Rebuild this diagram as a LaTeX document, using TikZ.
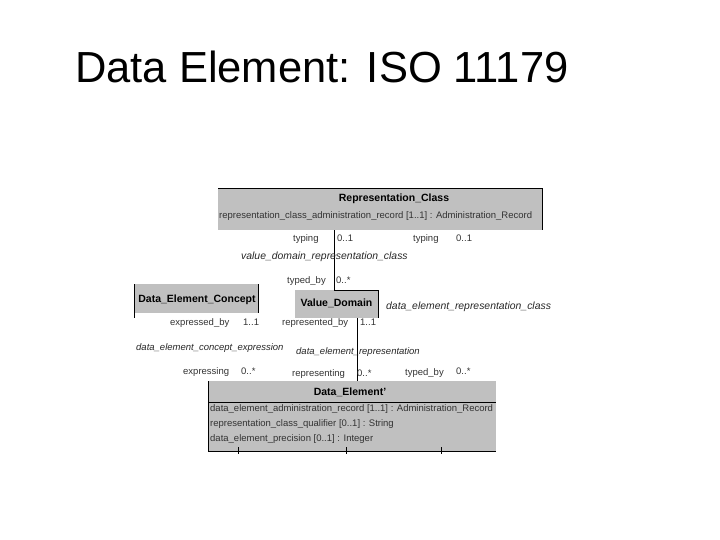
\documentclass[tikz,border=0pt]{standalone}
\usepackage{fontspec}
\setmainfont{Liberation Sans}
\begin{document}
\begin{tikzpicture}[x=1pt,y=-1pt,
  box/.style={fill=boxgray,draw=none,inner sep=0,anchor=north west},
  bord/.style={draw=black,line width=0.9pt},
  hdr/.style={inner sep=0,anchor=base,font=\fontsize{10.5}{12}\bfseries},
  lab/.style={inner sep=0,anchor=base west,text=black!80,font=\fontsize{9.5}{11}\selectfont},
  ilab/.style={inner sep=0,anchor=base west,text=black!85,font=\fontsize{10.4}{12}\itshape},
  islab/.style={inner sep=0,anchor=base west,text=black!85,font=\fontsize{9.5}{11}\itshape}]
\definecolor{boxgray}{RGB}{192,192,192}
\useasboundingbox (0,0) rectangle (720,540);
% title
\node[inner sep=0,anchor=base west,font=\fontsize{43.5}{48}\selectfont] (title) at (75,82.7) {Data Element: ISO 11179};
% Representation_Class
\node[box,minimum width=324pt,minimum height=42pt] (rc) at (218,188) {};
\draw[bord] (rc.north west) -- (rc.north east) -- (rc.south east);
\node[hdr] (rct) at (394,201.5) {Representation\_Class};
\node[lab] (rca) at (219,218.5) {representation\_class\_administration\_record [1..1] : Administration\_Record};
% Data_Element_Concept
\node[box,minimum width=124pt,minimum height=29pt] (dec) at (134,284) {};
\draw[bord] (dec.north west) -- ([yshift=-5pt]dec.south west);
\draw[bord] (dec.north east) -- (dec.south east);
\node[hdr] (dect) at (197,302) {Data\_Element\_Concept};
% Value_Domain
\node[box,minimum width=83pt,minimum height=28pt] (vd) at (295,290) {};
\draw[bord] ([xshift=-2.5pt]vd.north) -- (vd.north east) -- (vd.south east);
\node[hdr] (vdt) at (336.5,306) {Value\_Domain};
% Data_Element
\node[box,minimum width=288pt,minimum height=70pt] (de) at (208,381) {};
\draw[bord] (de.north west) -- (de.south west) -- (de.south east);
\draw[bord] ([yshift=-21pt]de.north west) -- ([yshift=-21pt]de.north east);
\node[hdr] (det) at (350,395) {Data\_Element'};
\node[lab] (dea1) at (210,411.5) {data\_element\_administration\_record [1..1] : Administration\_Record};
\node[lab] (dea2) at (210,426.5) {representation\_class\_qualifier [0..1] : String};
\node[lab] (dea3) at (210,441.5) {data\_element\_precision [0..1] : Integer};
\foreach \tx in {30,138,233} \draw[bord] ([xshift=\tx pt,yshift=4pt]de.south west) -- ([xshift=\tx pt,yshift=-3pt]de.south west);
% connectors
\draw[bord] ([xshift=-2.5pt]vd.north |- rc.south) -- ([xshift=-2.5pt]vd.north);
\draw[bord] ([xshift=20.5pt]vd.south) -- ([xshift=20.5pt]vd.south |- de.north);
% association labels
\node[lab] (l1) at (293,241.5) {typing};
\node[lab] (l2) at (337,241.5) {0..1};
\node[lab] (l3) at (413,241.5) {typing};
\node[lab] (l4) at (456,241.5) {0..1};
\node[ilab] (l5) at (241,259.5) {value\_domain\_representation\_class};
\node[lab] (l6) at (287,283.5) {typed\_by};
\node[lab] (l7) at (336,283.5) {0..*};
\node[ilab] (l8) at (386,309.5) {data\_element\_representation\_class};
\node[lab] (l9) at (170,325.5) {expressed\_by};
\node[lab] (l10) at (243,325.5) {1..1};
\node[lab] (l11) at (282,325.5) {represented\_by};
\node[lab] (l12) at (360,325.5) {1..1};
\node[islab] (l13) at (136,350.5) {data\_element\_concept\_expression};
\node[islab] (l14) at (296,354.5) {data\_element\_representation};
\node[lab] (l15) at (183,374.5) {expressing};
\node[lab] (l16) at (241,374.5) {0..*};
\node[lab] (l17) at (292,376.5) {representing};
\node[lab] (l18) at (357,376.5) {0..*};
\node[lab] (l19) at (405,375.5) {typed\_by};
\node[lab] (l20) at (456,374.5) {0..*};
\end{tikzpicture}
\end{document}
